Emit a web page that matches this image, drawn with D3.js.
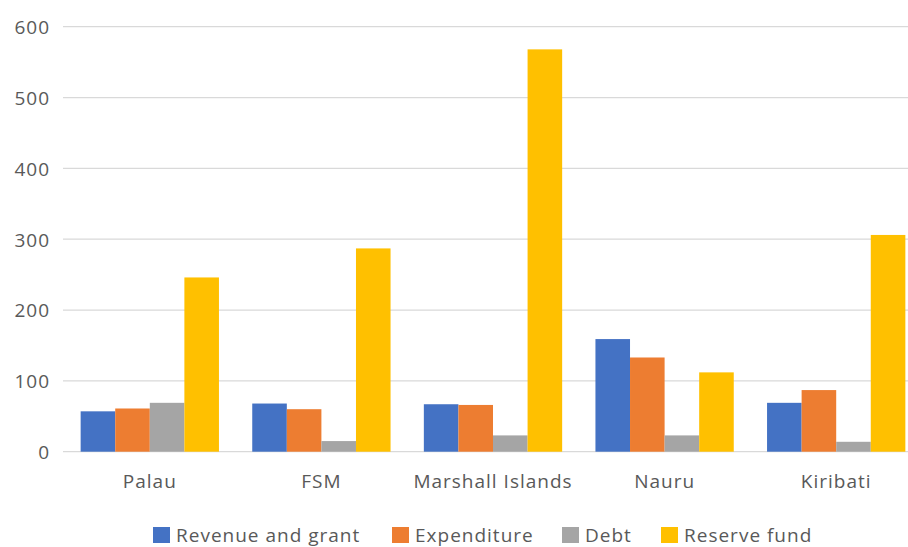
<!DOCTYPE html>
<html>
<head>
<meta charset="utf-8">
<script src="https://cdn.jsdelivr.net/npm/d3@7"></script>
<style>
  html, body { margin: 0; padding: 0; background: #fff; }
  svg { display: block; }
  text { font-family: "Open Sans", "Noto Sans", sans-serif; fill: #595959; letter-spacing: 1px; }
</style>
</head>
<body>
<svg id="chart" width="908" height="547"></svg>
<script>
// Fiscal indicators by country
const categories = ["Palau", "FSM", "Marshall Islands", "Nauru", "Kiribati"];
const seriesNames = ["Revenue and grant", "Expenditure", "Debt", "Reserve fund"];
const revenueAndGrant = [57, 68, 67, 159, 69];
const expenditure = [61, 60, 66, 133, 87];
const debt = [69, 15, 23, 23, 14];
const reserveFund = [246, 287, 568, 112, 306];
const yTicks = [0, 100, 200, 300, 400, 500, 600];
const colors = ["#4472C4", "#ED7D31", "#A5A5A5", "#FFC000"];

const seriesValues = [revenueAndGrant, expenditure, debt, reserveFund];

const svg = d3.select("#chart");
const plotLeft = 64, plotRight = 922, plotTop = 26.7, plotBottom = 451.7;

const x = d3.scaleBand().domain(categories).range([plotLeft, plotRight]).paddingInner(0).paddingOuter(0);
const groupPad = 0.097;
const xs = d3.scaleBand().domain(seriesNames)
  .range([x.bandwidth() * groupPad, x.bandwidth() * (1 - groupPad)]).padding(0);
const y = d3.scaleLinear().domain([0, 600]).range([plotBottom, plotTop]);

// horizontal gridlines
svg.append("g").selectAll("line").data(yTicks).join("line")
  .attr("x1", 63).attr("x2", 908)
  .attr("y1", d => y(d)).attr("y2", d => y(d))
  .attr("stroke", "#d9d9d9").attr("stroke-width", 1.3);

// y-axis labels
const yAxis = d3.axisLeft(y).tickValues(yTicks).tickSize(0).tickPadding(0);
const yg = svg.append("g").attr("transform", "translate(50,0)").call(yAxis);
yg.select(".domain").remove();
yg.selectAll("text").attr("font-size", 19).attr("dy", "0.36em")
  .style("font-family", "'Open Sans', sans-serif").attr("fill", "#595959");

// bars
const groups = svg.append("g").selectAll("g").data(categories).join("g")
  .attr("transform", d => `translate(${x(d)},0)`);
groups.selectAll("rect")
  .data((d, i) => seriesNames.map((s, j) => ({ s, v: seriesValues[j][i], c: colors[j] })))
  .join("rect")
  .attr("x", d => xs(d.s))
  .attr("width", xs.bandwidth())
  .attr("y", d => y(d.v))
  .attr("height", d => y(0) - y(d.v))
  .attr("fill", d => d.c);

// category labels
const xAxis = d3.axisBottom(x).tickSize(0).tickPadding(0);
const xg = svg.append("g").attr("transform", "translate(0,481)").call(xAxis);
xg.select(".domain").remove();
xg.selectAll("text").attr("y", 0).attr("dy", "0.36em").attr("font-size", 19)
  .style("font-family", "'Open Sans', sans-serif").attr("fill", "#595959");

// legend
const legendX = [153, 392, 562, 661];
const legend = svg.append("g").selectAll("g").data(seriesNames).join("g")
  .attr("transform", (d, i) => `translate(${legendX[i]},527)`);
legend.append("rect").attr("width", 17).attr("height", 16)
  .attr("fill", (d, i) => colors[i]);
legend.append("text").attr("x", 23).attr("y", 8.5).attr("dy", "0.36em").attr("font-size", 19)
  .text(d => d);
</script>
</body>
</html>
